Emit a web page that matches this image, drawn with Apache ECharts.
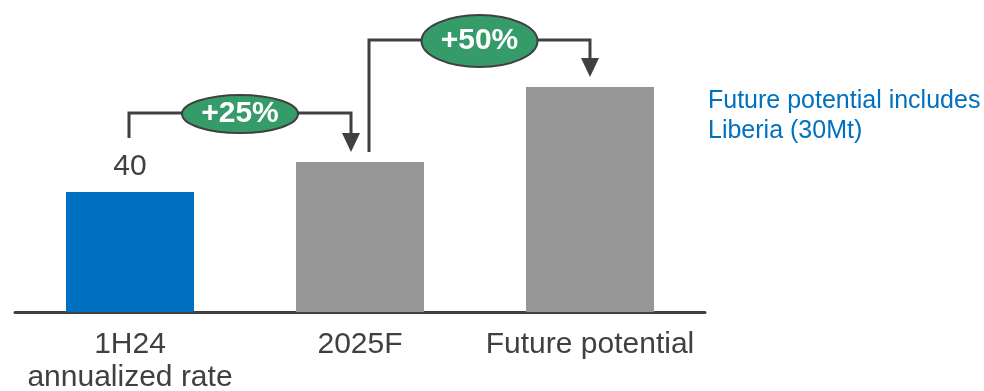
<!DOCTYPE html>
<html lang="en">
<head>
<meta charset="UTF-8">
<title>Capacity outlook</title>
<style>
    * { margin: 0; padding: 0; }
    html, body { width: 100%; height: 100%; background: #fff; }
    #main { width: 984px; height: 391px; }
</style>
</head>
<body>
<div id="main"></div>
<script src="https://cdn.jsdelivr.net/npm/echarts@6/dist/echarts.min.js"></script>
<script>
    // data
    var categories = ['1H24\nannualized rate', '2025F', 'Future potential'];
    var values = [40, 50, 75];
    var valueLabels = ['40', '', ''];
    var changes = ['+25%', '+50%'];
    var note = 'Future potential includes\nLiberia (30Mt)';

    var barColors = ['#0070C0', '#969696', '#969696'];
    var dark = '#404040';
    var font = 'Liberation Sans, Arial, sans-serif';

    var myChart = echarts.init(document.getElementById('main'));

    var option = {
        animation: false,
        grid: { left: 15, right: 279, top: 12, bottom: 79, outerBoundsMode: 'none', containLabel: false },
        xAxis: {
            type: 'category',
            data: categories,
            axisLine: { lineStyle: { color: dark, width: 3 } },
            axisTick: { show: false },
            axisLabel: {
                color: dark, fontSize: 30, fontFamily: font,
                lineHeight: 33, margin: 16, interval: 0
            }
        },
        yAxis: { type: 'value', min: 0, max: 100, show: false, splitLine: { show: false } },
        series: [{
            type: 'bar',
            barWidth: 128,
            data: values.map(function (v, i) {
                return {
                    value: v,
                    itemStyle: { color: barColors[i] },
                    label: {
                        show: valueLabels[i] !== '', position: 'top', distance: 10,
                        formatter: valueLabels[i], color: dark, fontSize: 30, fontFamily: font
                    }
                };
            })
        }]
    };
    myChart.setOption(option);

    // growth brackets, placed from the bar positions
    function px(i) { return myChart.convertToPixel({ xAxisIndex: 0, yAxisIndex: 0 }, [i, values[i]]); }
    var p = values.map(function (v, i) { return px(i); });

    function bracket(xa, ya, yl, xb, yTip, text, ry) {
        var els = [];
        els.push({
            type: 'polyline',
            shape: { points: [[xa, ya], [xa, yl], [xb, yl], [xb, yTip - 16]] },
            style: { stroke: dark, lineWidth: 3, fill: null }
        });
        els.push({
            type: 'polygon',
            shape: { points: [[xb - 9, yTip - 19], [xb + 9, yTip - 19], [xb, yTip]] },
            style: { fill: dark }
        });
        els.push({
            type: 'ellipse',
            shape: { cx: (xa + xb) / 2, cy: yl + 1, rx: 58, ry: ry },
            style: { fill: '#359B69', stroke: dark, lineWidth: 2 }
        });
        els.push({
            type: 'text',
            x: (xa + xb) / 2, y: yl + 1,
            style: {
                text: text, fill: '#fff', font: 'bold 30px ' + font,
                align: 'center', verticalAlign: 'middle'
            }
        });
        return els;
    }

    var g = [];
    g = g.concat(bracket(p[0][0] - 1, p[0][1] - 54, p[1][1] - 49, p[1][0] - 9, p[1][1] - 10, changes[0], 19));
    g = g.concat(bracket(p[1][0] + 9, p[1][1] - 10, p[2][1] - 47, p[2][0], p[2][1] - 10, changes[1], 26));
    g.push({
        type: 'text',
        left: 708, top: 86,
        style: { text: note, fill: '#0070C0', font: '25px ' + font, lineHeight: 30 }
    });

    myChart.setOption({ graphic: g });
</script>
</body>
</html>
